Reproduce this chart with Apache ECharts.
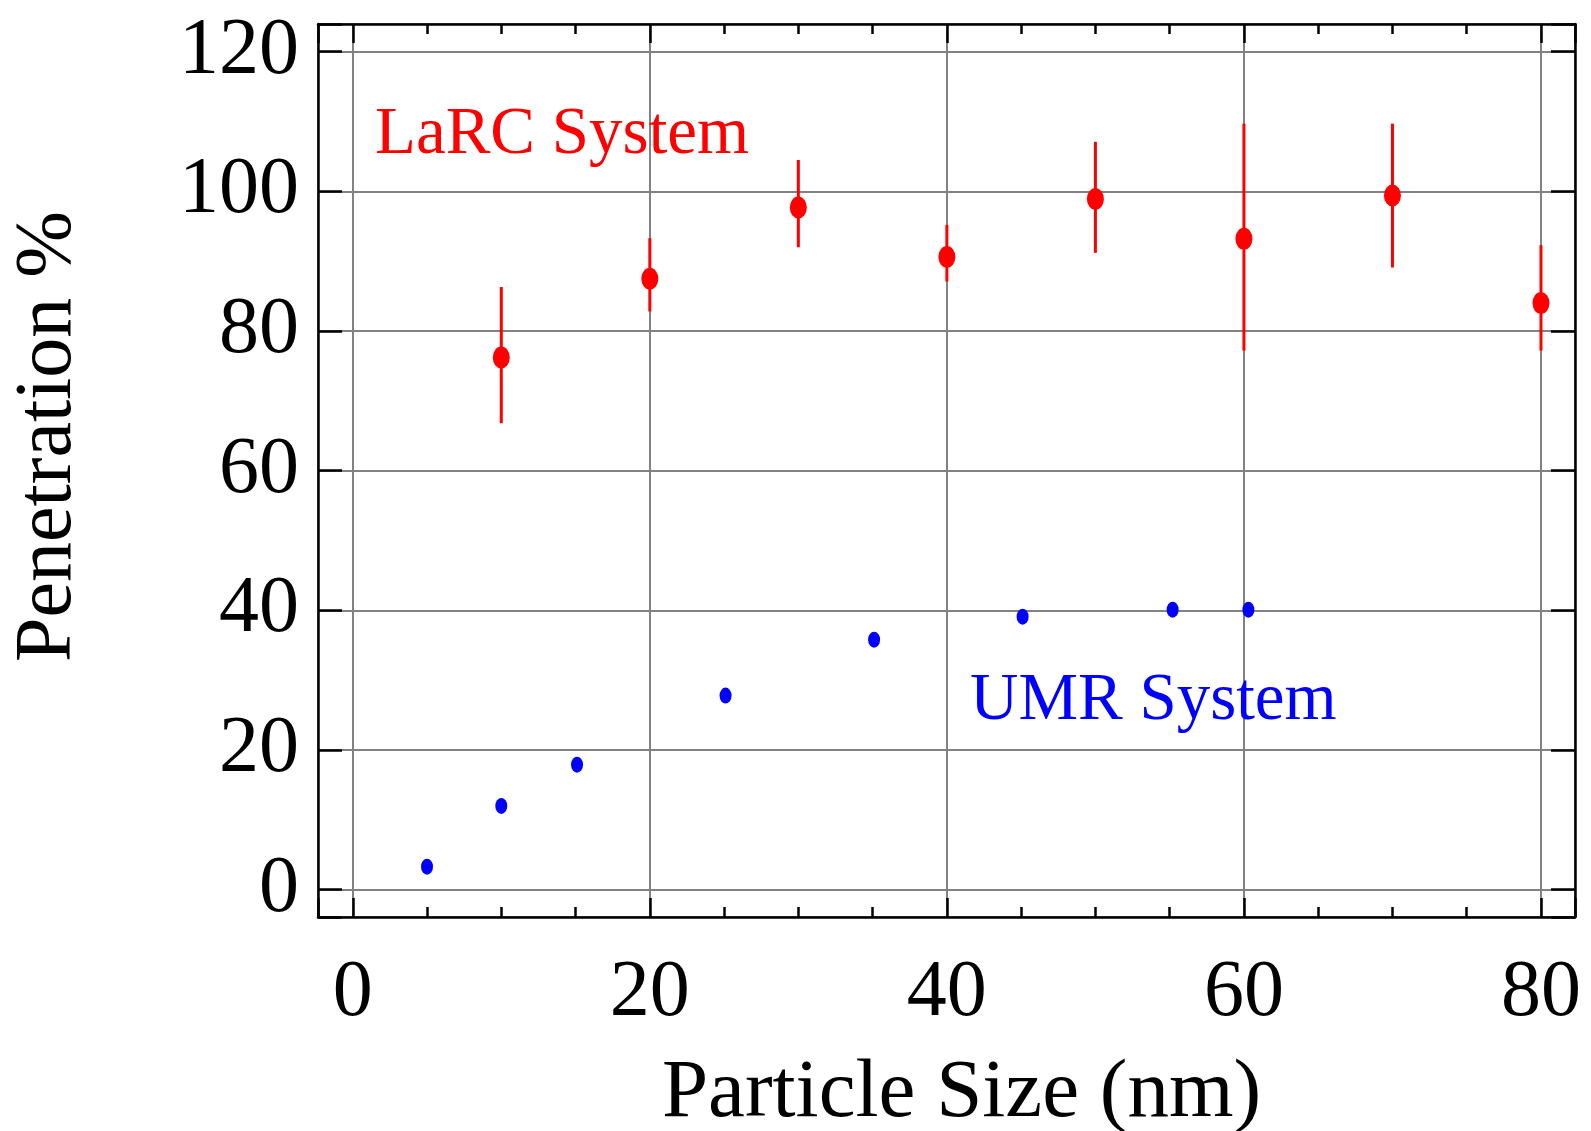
<!DOCTYPE html>
<html>
<head>
<meta charset="utf-8">
<script src="https://cdn.jsdelivr.net/npm/echarts@6/dist/echarts.min.js"></script>
<style>html,body{margin:0;padding:0;background:#fff}#c{width:1591px;height:1131px}</style>
</head>
<body>
<div id="c"></div>
<script>
// ---- data ----
const larcX    = [10, 20, 30, 40, 50, 60, 70, 80];
const larcY    = [76.2, 87.5, 97.7, 90.6, 98.9, 93.2, 99.4, 84.0];
const larcLow  = [66.8, 82.8, 92.0, 87.1, 91.2, 77.2, 89.1, 77.2];
const larcHigh = [86.3, 93.3, 104.5, 95.2, 107.1, 109.7, 109.7, 92.3];
const umrX = [5, 10, 15.1, 25.1, 35.1, 45.1, 55.2, 60.3];
const umrY = [3.3, 12.0, 17.9, 27.8, 35.8, 39.1, 40.1, 40.1];
const xTickLabels = ['0', '20', '40', '60', '80'];
const yTickLabels = ['0', '20', '40', '60', '80', '100', '120'];
const xTitle = 'Particle Size (nm)';
const yTitle = 'Penetration %';
const larcLabel = 'LaRC System';
const umrLabel = 'UMR System';

// ---- layout / style ----
const XMIN = -2.34, XMAX = 82.29, YMIN = -3.91, YMAX = 123.97;
const FONT = '"Liberation Serif", "Times New Roman", serif';
const GRID_C = '#828282';
const ellipse = 'path://M0,10A10,10 0 1,1 20,10A10,10 0 1,1 0,10Z';

function fmt(list) {
  return function (v) {
    const s = String(Math.round(v));
    return (Math.abs(v - Math.round(v)) < 1e-6 && list.indexOf(s) >= 0) ? s : '';
  };
}

function xAxisBase(extra) {
  return Object.assign({
    type: 'value', min: XMIN, max: XMAX, splitNumber: 4, minInterval: 20, maxInterval: 20,
    axisLine: { show: false, onZero: false },
    axisTick: { show: false }, axisLabel: { show: false }, splitLine: { show: false }
  }, extra);
}
function yAxisBase(extra) {
  return Object.assign({
    type: 'value', min: YMIN, max: YMAX, splitNumber: 6, minInterval: 20, maxInterval: 20,
    axisLine: { show: false, onZero: false },
    axisTick: { show: false }, axisLabel: { show: false }, splitLine: { show: false }
  }, extra);
}
const frameLine = { show: true, onZero: false, lineStyle: { color: '#000', width: 2.5 } };
const majorTick = (len) => ({ show: true, inside: true, length: len, lineStyle: { color: '#000', width: 2.5 } });

const chart = echarts.init(document.getElementById('c'), null, { renderer: 'canvas' });
chart.setOption({
  animation: false,
  backgroundColor: '#fff',
  grid: { left: 318, top: 24, right: 16, bottom: 214, containLabel: false, outerBoundsMode: 'none' },
  xAxis: [
    // 0: vertical grid lines
    xAxisBase({ position: 'bottom', z: 0, splitLine: { show: true, lineStyle: { color: GRID_C, width: 2 } } }),
    // 1: bottom frame, major ticks, labels, title
    xAxisBase({
      position: 'bottom', z: 3, axisLine: frameLine, axisTick: majorTick(19),
      axisLabel: { show: true, margin: 37, color: '#000', fontFamily: FONT, fontSize: 80, formatter: fmt(xTickLabels) },
      name: xTitle, nameLocation: 'middle', nameGap: 136,
      nameTextStyle: { color: '#000', fontFamily: FONT, fontSize: 83, padding: [0, 0, 0, 30] }
    }),
    // 2: bottom minor ticks
    xAxisBase({
      position: 'bottom', z: 3, splitNumber: 17, minInterval: 5, maxInterval: 5, axisTick: majorTick(10)
    }),
    // 3: top frame + major ticks
    xAxisBase({ position: 'top', z: 3, axisLine: frameLine, axisTick: majorTick(19) }),
    // 4: top minor ticks
    xAxisBase({
      position: 'top', z: 3, splitNumber: 17, minInterval: 5, maxInterval: 5, axisTick: majorTick(10)
    })
  ],
  yAxis: [
    // 0: horizontal grid lines
    yAxisBase({ position: 'left', z: 0, splitLine: { show: true, lineStyle: { color: GRID_C, width: 2 } } }),
    // 1: left frame, ticks, labels, title
    yAxisBase({
      position: 'left', z: 3, axisLine: frameLine, axisTick: majorTick(24),
      axisLabel: { show: true, margin: 19, color: '#000', fontFamily: FONT, fontSize: 80, formatter: fmt(yTickLabels) },
      name: yTitle, nameLocation: 'middle', nameGap: 229, nameRotate: 90,
      nameTextStyle: { color: '#000', fontFamily: FONT, fontSize: 80, padding: [0, 0, 0, 68] }
    }),
    // 2: right frame + ticks
    yAxisBase({ position: 'right', z: 3, axisLine: frameLine, axisTick: majorTick(24) })
  ],
  series: [
    {
      type: 'custom', name: 'LaRC error', xAxisIndex: 0, yAxisIndex: 0, z: 2,
      data: larcX.map((x, i) => [x, larcLow[i], larcHigh[i]]),
      encode: { x: 0, y: [1, 2] },
      renderItem: function (params, api) {
        const x = api.value(0);
        const p1 = api.coord([x, api.value(1)]);
        const p2 = api.coord([x, api.value(2)]);
        return { type: 'line', shape: { x1: p1[0], y1: p1[1], x2: p2[0], y2: p2[1] },
                 style: { stroke: '#ff0000', lineWidth: 3 } };
      }
    },
    {
      type: 'scatter', name: larcLabel, xAxisIndex: 0, yAxisIndex: 0, z: 4,
      symbol: ellipse, symbolSize: [17, 22], symbolKeepAspect: false,
      itemStyle: { color: '#ff0000', opacity: 1 },
      data: larcX.map((x, i) => [x, larcY[i]])
    },
    {
      type: 'scatter', name: umrLabel, xAxisIndex: 0, yAxisIndex: 0, z: 4,
      symbol: ellipse, symbolSize: [12, 16], symbolKeepAspect: false,
      itemStyle: { color: '#0000ff', opacity: 1 },
      data: umrX.map((x, i) => [x, umrY[i]])
    }
  ],
  graphic: [
    { type: 'text', left: 375, top: 102, z: 10,
      style: { text: larcLabel, fill: '#ff0000', font: '67px ' + FONT } },
    { type: 'text', left: 970, top: 668, z: 10,
      style: { text: umrLabel, fill: '#0000ff', font: '67px ' + FONT } }
  ]
});
</script>
</body>
</html>
